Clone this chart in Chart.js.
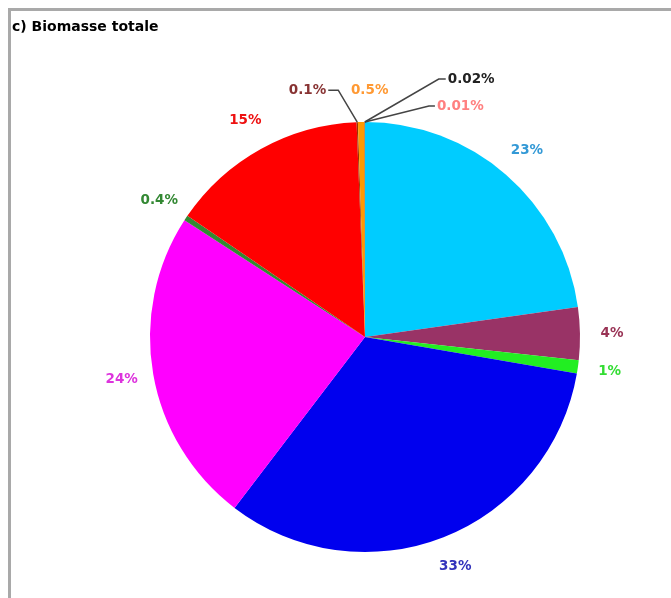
<!DOCTYPE html>
<html>
<head>
<meta charset="utf-8">
<title>Biomasse totale</title>
<script src="https://cdn.jsdelivr.net/npm/chart.js@4.4.1/dist/chart.umd.min.js"></script>
<style>
    html, body { margin: 0; padding: 0; background: #fff; overflow: hidden; }
    canvas { display: block; }
</style>
</head>
<body>
<canvas id="biomass-chart" width="671" height="598"></canvas>
<script>
const title = 'c) Biomasse totale';
const labels = ['23%', '4%', '1%', '33%', '24%', '0.4%', '15%', '0.1%', '0.5%', '0.02%', '0.01%'];
const values = [23, 4, 1, 33, 24, 0.4, 15, 0.1, 0.5, 0.02, 0.01];
const sliceColors = ['#00ccff', '#993366', '#22ee22', '#0000ee', '#ff00ff', '#338833',
    '#ff0000', '#993300', '#ff9900', '#000000', '#ff8080'];
const labelColors = ['#3399d6', '#993355', '#33dd33', '#3333bb', '#dd33dd', '#338833',
    '#ee1111', '#883333', '#ff9933', '#222222', '#ff8080'];

// tiny slices get a bent leader line instead of a plain radial label
const leaders = {
    7: { dx: -19, dy: -32, tail: -10 },
    9: { dx: 74, dy: -43, tail: 7 },
    10: { dx: 64, dy: -16, tail: 6 }
};
// small sideways shift so the orange label clears the leader of 0.1%
const nudges = { 8: 9 };

// grey panel edge along the top and left
const panelFrame = {
    id: 'panelFrame',
    beforeDraw(chart) {
        const ctx = chart.ctx;
        ctx.save();
        ctx.fillStyle = '#fff';
        ctx.fillRect(0, 0, chart.width, chart.height);
        ctx.strokeStyle = '#a9a9a9';
        ctx.lineWidth = 3;
        ctx.beginPath();
        ctx.moveTo(9.5, chart.height);
        ctx.lineTo(9.5, 9.5);
        ctx.lineTo(chart.width, 9.5);
        ctx.stroke();
        ctx.restore();
    }
};

const pieLabels = {
    id: 'pieLabels',
    afterDraw(chart) {
        const ctx = chart.ctx;
        ctx.save();
        ctx.font = 'bold 14px "DejaVu Sans", sans-serif';
        ctx.fillStyle = '#000';
        ctx.textAlign = 'left';
        ctx.textBaseline = 'middle';
        ctx.fillText(title, 12, 27);

        ctx.font = 'bold 13.5px "DejaVu Sans", sans-serif';
        const arcs = chart.getDatasetMeta(0).data;
        arcs.forEach((arc, i) => {
            const mid = (arc.startAngle + arc.endAngle) / 2;
            ctx.fillStyle = labelColors[i];
            const lead = leaders[i];
            if (lead) {
                const x0 = arc.x + Math.cos(mid) * arc.outerRadius;
                const y0 = arc.y + Math.sin(mid) * arc.outerRadius;
                const x1 = x0 + lead.dx, y1 = y0 + lead.dy;
                const x2 = x1 + lead.tail;
                ctx.strokeStyle = '#444';
                ctx.lineWidth = 1.5;
                ctx.beginPath();
                ctx.moveTo(x0, y0);
                ctx.lineTo(x1, y1);
                ctx.lineTo(x2, y1);
                ctx.stroke();
                ctx.textAlign = lead.tail < 0 ? 'right' : 'left';
                ctx.fillText(labels[i], x2 + (lead.tail < 0 ? -2 : 2), y1);
            } else {
                const r = arc.outerRadius + 32;
                ctx.textAlign = 'center';
                ctx.fillText(labels[i], arc.x + Math.cos(mid) * r + (nudges[i] || 0), arc.y + Math.sin(mid) * r);
            }
        });
        ctx.restore();
    }
};

new Chart('biomass-chart', {
    type: 'pie',
    data: {
        labels: labels,
        datasets: [{
            data: values,
            backgroundColor: sliceColors,
            borderWidth: 0
        }]
    },
    options: {
        responsive: false,
        animation: false,
        layout: { padding: { left: 150, right: 91, top: 122, bottom: 46 } },
        plugins: {
            legend: { display: false },
            tooltip: { enabled: false }
        }
    },
    plugins: [panelFrame, pieLabels]
});
</script>
</body>
</html>
